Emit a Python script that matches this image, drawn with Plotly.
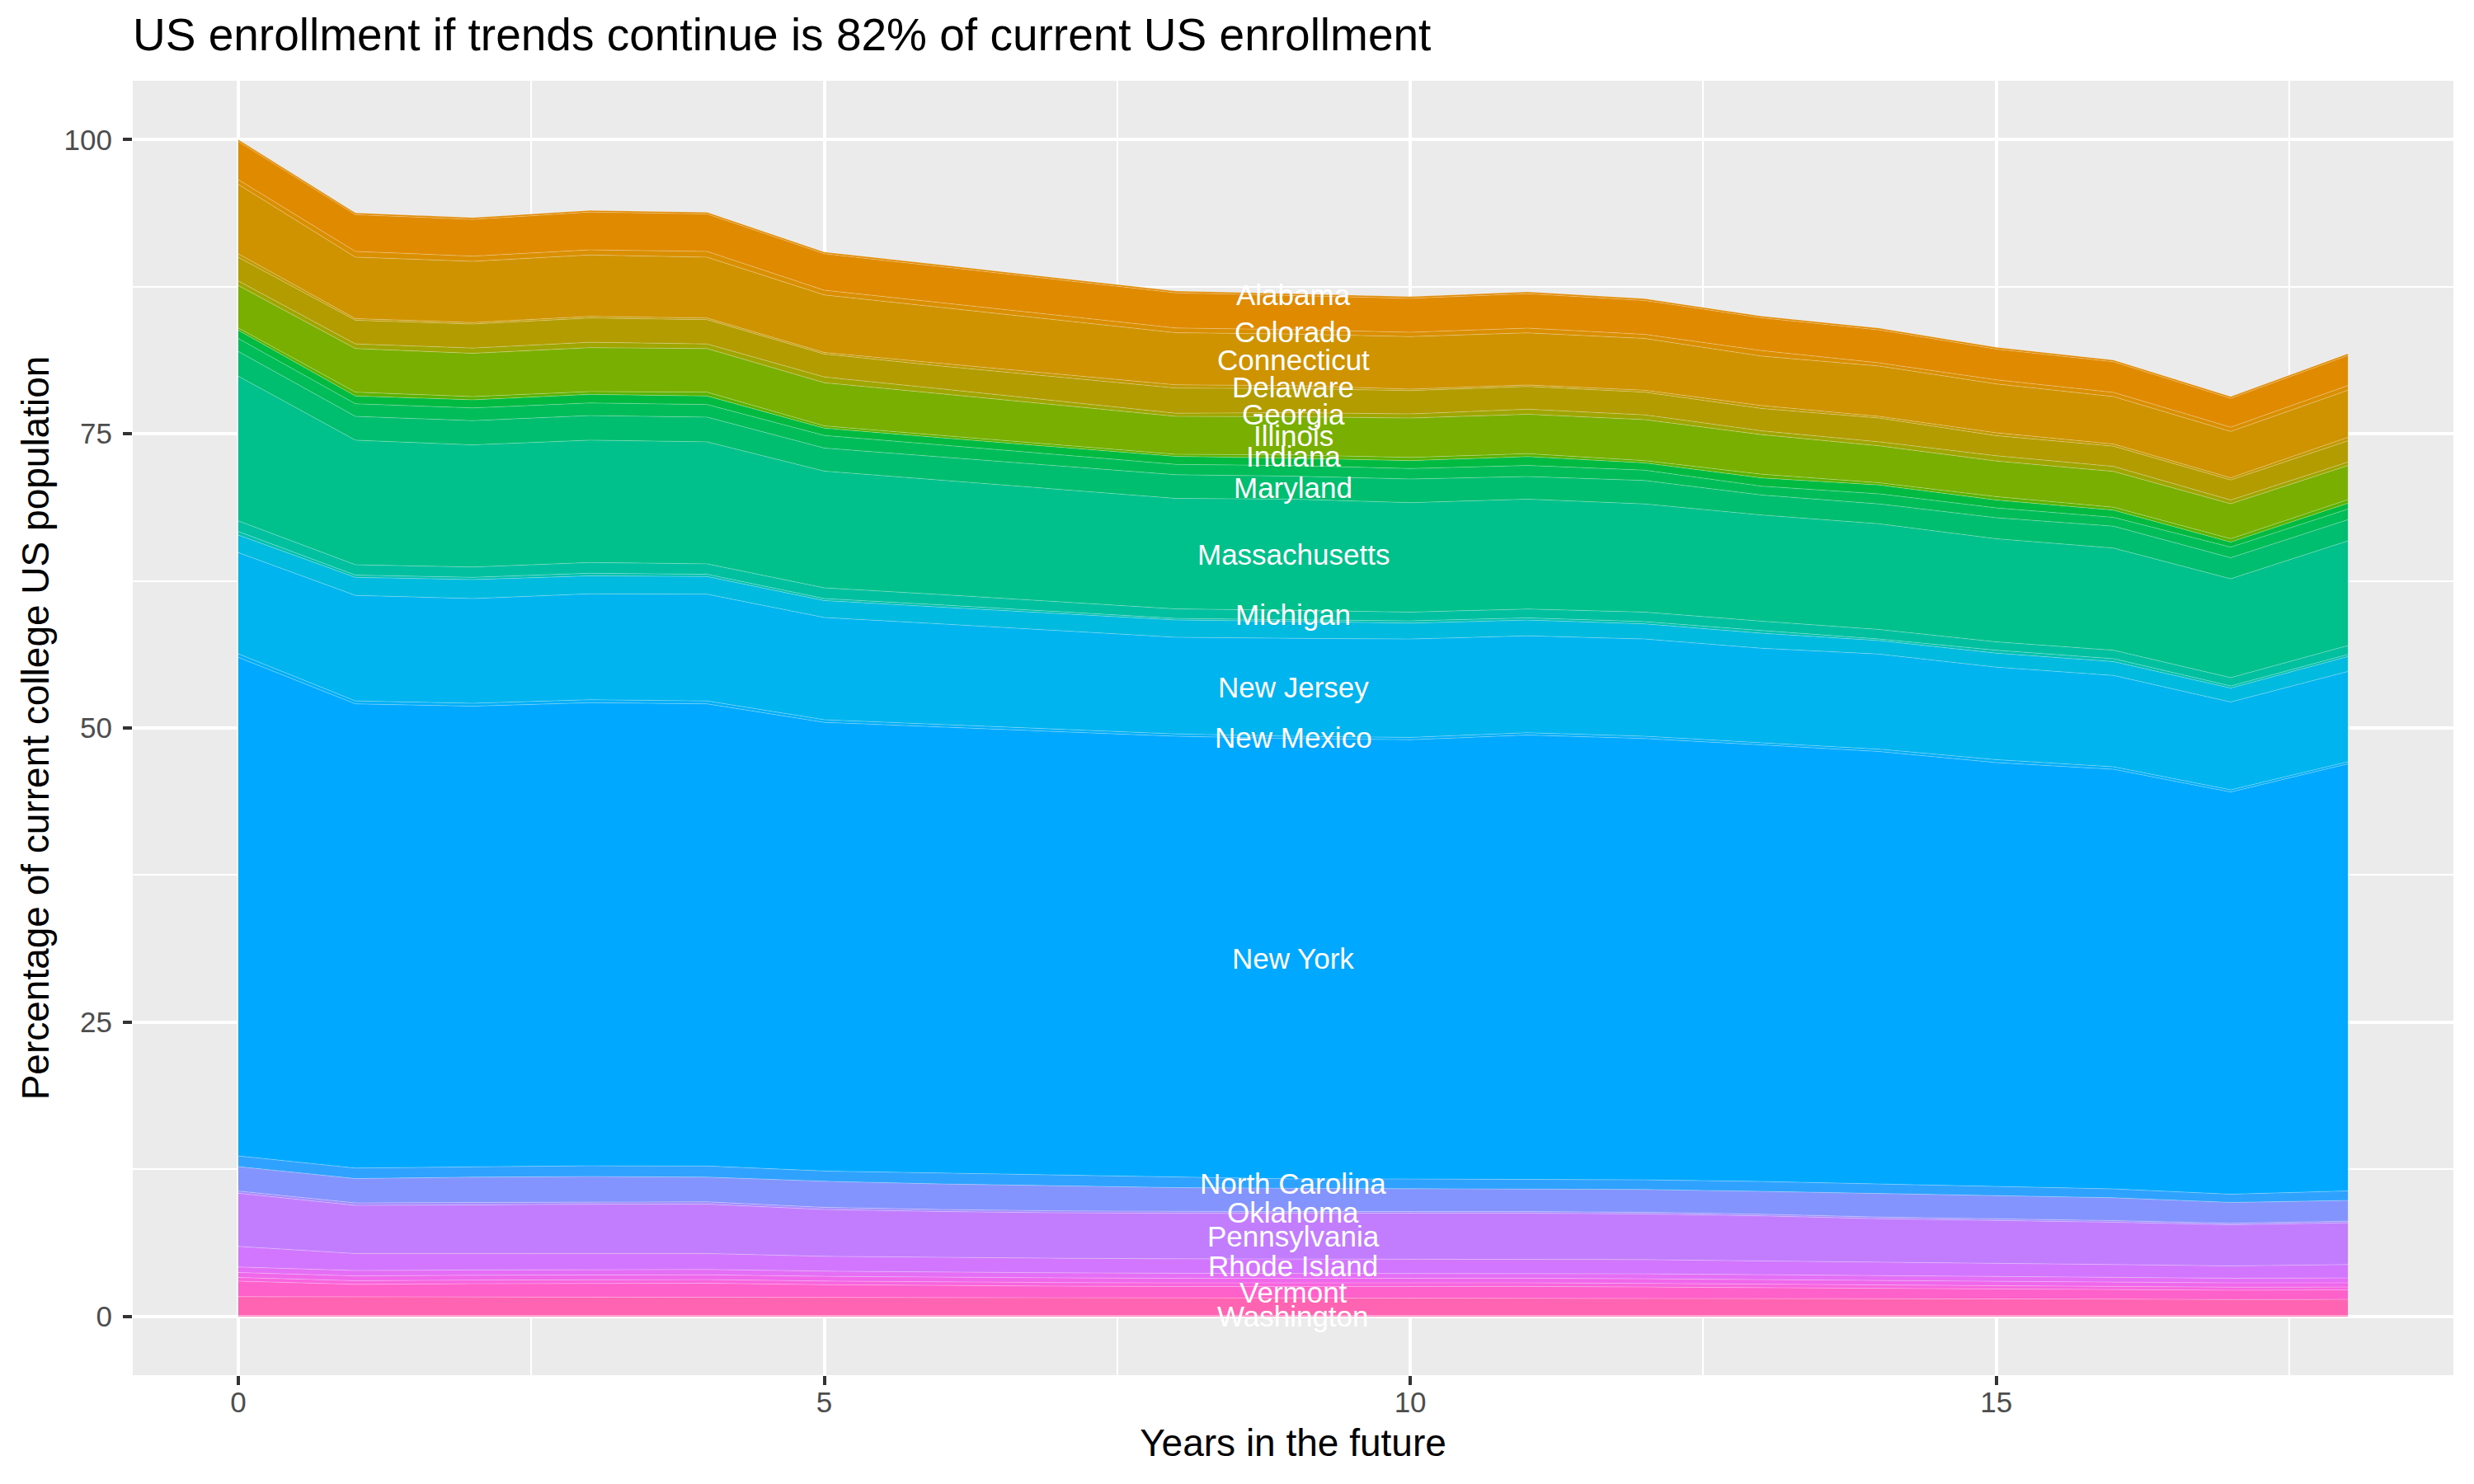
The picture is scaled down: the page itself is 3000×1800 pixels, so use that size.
import plotly.graph_objects as go

years = list(range(19))

# values per state (percentage points of current US college population), top band first
alabama = [0.15, 0.15, 0.15, 0.15, 0.15, 0.15, 0.15, 0.15, 0.15, 0.15, 0.15, 0.15, 0.15, 0.15, 0.15, 0.15, 0.15, 0.15, 0.15]
arizona = [3.25, 3.12, 3.12, 3.21, 3.18, 3.10, 3.06, 3.02, 2.99, 2.90, 2.88, 2.93, 2.88, 2.78, 2.80, 2.61, 2.60, 2.45, 2.56]
colorado = [0.40, 0.49, 0.44, 0.43, 0.49, 0.40, 0.40, 0.40, 0.40, 0.37, 0.37, 0.40, 0.35, 0.47, 0.27, 0.35, 0.36, 0.36, 0.40]
connecticut = [5.90, 5.22, 5.20, 5.22, 5.17, 4.89, 4.76, 4.59, 4.43, 4.38, 4.46, 4.43, 4.40, 4.20, 4.28, 4.15, 4.03, 3.94, 4.00]
delaware = [0.30, 0.14, 0.13, 0.14, 0.14, 0.13, 0.23, 0.25, 0.27, 0.26, 0.13, 0.13, 0.16, 0.25, 0.14, 0.25, 0.18, 0.18, 0.30]
florida = [2.00, 2.01, 2.04, 2.06, 2.06, 1.95, 1.93, 2.04, 2.14, 2.04, 1.98, 1.93, 1.93, 1.90, 2.02, 1.71, 1.72, 1.71, 1.80]
georgia = [0.40, 0.40, 0.45, 0.46, 0.40, 0.49, 0.42, 0.34, 0.27, 0.35, 0.35, 0.43, 0.41, 0.32, 0.34, 0.44, 0.43, 0.32, 0.30]
illinois = [3.60, 3.70, 3.68, 3.73, 3.70, 3.67, 3.54, 3.38, 3.22, 3.25, 3.35, 3.35, 3.48, 3.37, 3.14, 3.03, 3.04, 2.97, 2.90]
indiana = [0.20, 0.33, 0.27, 0.24, 0.33, 0.19, 0.20, 0.19, 0.18, 0.27, 0.27, 0.25, 0.19, 0.31, 0.19, 0.29, 0.25, 0.28, 0.30]
iowa = [0.70, 0.66, 0.69, 0.73, 0.72, 0.62, 0.61, 0.65, 0.68, 0.63, 0.67, 0.75, 0.62, 0.70, 0.75, 0.67, 0.61, 0.43, 0.50]
kansas = [1.10, 1.07, 1.08, 1.07, 1.07, 1.07, 1.02, 0.95, 0.88, 0.90, 0.89, 0.94, 0.88, 0.75, 0.86, 0.83, 0.75, 0.90, 0.90]
maryland = [2.10, 2.02, 2.06, 2.09, 2.10, 1.96, 1.97, 1.99, 2.01, 1.95, 2.01, 1.92, 1.99, 1.70, 1.69, 1.79, 1.86, 1.79, 1.80]
massachusetts = [12.30, 10.59, 10.38, 10.40, 10.37, 9.92, 9.72, 9.55, 9.39, 9.45, 9.30, 9.34, 9.19, 9.02, 8.98, 8.76, 8.68, 8.40, 8.90]
michigan = [0.90, 0.88, 0.88, 0.91, 0.89, 0.91, 0.88, 0.84, 0.81, 0.80, 0.75, 0.75, 0.81, 0.80, 0.81, 0.71, 0.72, 0.71, 0.75]
minnesota = [0.30, 0.19, 0.19, 0.22, 0.19, 0.17, 0.19, 0.17, 0.13, 0.15, 0.19, 0.19, 0.19, 0.23, 0.13, 0.25, 0.25, 0.18, 0.18]
missouri = [1.50, 1.53, 1.61, 1.53, 1.50, 1.44, 1.43, 1.45, 1.47, 1.43, 1.35, 1.34, 1.29, 1.28, 1.15, 1.19, 1.18, 1.18, 1.27]
new_jersey = [8.60, 8.97, 8.90, 9.00, 9.07, 8.69, 8.54, 8.37, 8.21, 8.32, 8.36, 8.23, 8.26, 8.03, 8.08, 7.86, 7.76, 7.47, 7.67]
new_mexico = [0.30, 0.25, 0.25, 0.25, 0.25, 0.22, 0.22, 0.20, 0.20, 0.20, 0.20, 0.20, 0.20, 0.18, 0.20, 0.25, 0.21, 0.18, 0.18]
new_york = [42.37, 39.45, 39.15, 39.36, 39.28, 38.13, 37.90, 37.68, 37.47, 37.42, 37.33, 37.76, 37.50, 37.10, 36.75, 36.05, 35.66, 34.18, 36.29]
north_carolina = [0.91, 0.89, 0.87, 0.91, 0.94, 0.87, 0.93, 0.94, 0.89, 0.80, 0.82, 0.79, 0.82, 0.84, 0.82, 0.77, 0.75, 0.70, 0.81]
ohio = [2.07, 2.07, 2.15, 2.15, 2.10, 2.22, 2.17, 2.12, 2.03, 1.98, 1.94, 1.94, 1.94, 1.94, 1.99, 1.96, 1.94, 1.77, 1.76]
oklahoma = [0.19, 0.21, 0.21, 0.20, 0.20, 0.18, 0.17, 0.16, 0.15, 0.14, 0.14, 0.14, 0.14, 0.14, 0.14, 0.14, 0.14, 0.13, 0.14]
pennsylvania = [4.52, 4.09, 4.13, 4.19, 4.19, 3.98, 3.90, 3.86, 3.87, 3.89, 3.90, 3.90, 3.88, 3.83, 3.71, 3.67, 3.60, 3.49, 3.55]
rhode_island = [1.75, 1.45, 1.40, 1.36, 1.36, 1.26, 1.26, 1.24, 1.23, 1.21, 1.21, 1.21, 1.21, 1.17, 1.12, 1.09, 1.09, 1.05, 1.14]
south_carolina = [0.47, 0.45, 0.45, 0.45, 0.45, 0.44, 0.44, 0.43, 0.43, 0.42, 0.42, 0.42, 0.42, 0.42, 0.41, 0.41, 0.41, 0.40, 0.41]
south_dakota = [0.42, 0.41, 0.41, 0.41, 0.41, 0.40, 0.40, 0.40, 0.39, 0.39, 0.39, 0.39, 0.39, 0.38, 0.38, 0.37, 0.37, 0.36, 0.36]
tennessee = [0.31, 0.31, 0.31, 0.31, 0.31, 0.31, 0.31, 0.31, 0.31, 0.31, 0.31, 0.31, 0.31, 0.30, 0.29, 0.28, 0.27, 0.26, 0.25]
vermont = [1.32, 1.06, 1.11, 1.16, 1.17, 1.07, 1.00, 0.98, 0.96, 0.98, 0.99, 0.99, 0.95, 0.92, 0.89, 0.84, 0.79, 0.80, 0.80]
virginia = [1.59, 1.58, 1.58, 1.57, 1.56, 1.54, 1.52, 1.50, 1.49, 1.48, 1.47, 1.47, 1.46, 1.44, 1.42, 1.40, 1.39, 1.34, 1.36]
washington = [0.08, 0.08, 0.08, 0.08, 0.08, 0.08, 0.08, 0.08, 0.08, 0.08, 0.08, 0.08, 0.08, 0.08, 0.08, 0.08, 0.08, 0.08, 0.08]

state_names = ["Alabama", "Arizona", "Colorado", "Connecticut", "Delaware", "Florida", "Georgia",
               "Illinois", "Indiana", "Iowa", "Kansas", "Maryland", "Massachusetts", "Michigan",
               "Minnesota", "Missouri", "New Jersey", "New Mexico", "New York", "North Carolina",
               "Ohio", "Oklahoma", "Pennsylvania", "Rhode Island", "South Carolina", "South Dakota",
               "Tennessee", "Vermont", "Virginia", "Washington"]
state_values = [alabama, arizona, colorado, connecticut, delaware, florida, georgia,
                illinois, indiana, iowa, kansas, maryland, massachusetts, michigan,
                minnesota, missouri, new_jersey, new_mexico, new_york, north_carolina,
                ohio, oklahoma, pennsylvania, rhode_island, south_carolina, south_dakota,
                tennessee, vermont, virginia, washington]

labelled_states = ["Alabama", "Colorado", "Connecticut", "Delaware", "Georgia", "Illinois",
                   "Indiana", "Maryland", "Massachusetts", "Michigan", "New Jersey",
                   "New Mexico", "New York", "North Carolina", "Oklahoma", "Pennsylvania",
                   "Rhode Island", "Vermont", "Washington"]
label_year = 9

x_ticks = [0, 5, 10, 15]
y_ticks = [0, 25, 50, 75, 100]

# styles
colors = ["#E08A00", "#E08A00", "#D98F00", "#D09300", "#C29900", "#B29C00", "#A0A600",
          "#78AF00", "#5BB300", "#00BA42", "#00BC59", "#00BE70", "#00C08B", "#00C0A0",
          "#00C0B0", "#00BADF", "#00B4EF", "#00AEF8", "#00A9FF", "#2FA1FF",
          "#8494FF", "#A68AFF", "#C27DFF", "#D376FF", "#E56EF6", "#EF67EB",
          "#F864DE", "#FF61CB", "#FF64B2", "#FF64B2"]

FONT = "Liberation Sans, Arial, sans-serif"

fig = go.Figure()

# plotly stacks from the first trace upward: add bottom state first
for name, vals, col in reversed(list(zip(state_names, state_values, colors))):
    fig.add_trace(go.Scatter(
        x=years, y=vals, name=name, stackgroup="one", mode="lines",
        line=dict(width=1, color="rgba(255,255,255,0.28)"),
        fillcolor=col, hoverinfo="skip", showlegend=False))

# label positions: centre of each band at label_year
idx = years.index(label_year)
bottom = 0.0
centers = {}
for name, vals in reversed(list(zip(state_names, state_values))):
    centers[name] = bottom + vals[idx] / 2.0
    bottom += vals[idx]

annotations = [
    dict(x=label_year, y=centers[n], xref="x", yref="y", text=n, showarrow=False,
         xanchor="center", yanchor="middle", yshift=0,
         font=dict(family=FONT, size=35, color="white"))
    for n in labelled_states
]

axis_common = dict(
    showgrid=True, gridcolor="white", gridwidth=4.4,
    zeroline=False, showline=False,
    ticks="outside", ticklen=11, tickwidth=3.5, tickcolor="#333333",
    tickfont=dict(family=FONT, size=35, color="#4D4D4D"),
    automargin=False,
)

fig.update_layout(
    width=3000, height=1800,
    margin=dict(l=161, r=25, t=98, b=132),
    plot_bgcolor="#EBEBEB", paper_bgcolor="white",
    annotations=annotations,
    title=dict(text="US enrollment if trends continue is 82% of current US enrollment",
               x=161 / 3000, xanchor="left", xref="container",
               y=1 - 42 / 1800, yanchor="middle", yref="container",
               font=dict(family=FONT, size=55, color="black")),
    xaxis=dict(range=[-0.9, 18.9], tickmode="array", tickvals=x_ticks,
               ticktext=[str(v) for v in x_ticks],
               minor=dict(tickmode="linear", tick0=0, dtick=2.5, showgrid=True,
                          gridcolor="white", gridwidth=2.2, ticks=""),
               title=dict(text="Years in the future", standoff=14,
                          font=dict(family=FONT, size=46, color="black")),
               ticklabelstandoff=-9,
               **axis_common),
    yaxis=dict(range=[-5, 105], tickmode="array", tickvals=y_ticks,
               ticktext=[str(v) for v in y_ticks],
               minor=dict(tickmode="linear", tick0=0, dtick=12.5, showgrid=True,
                          gridcolor="white", gridwidth=2.2, ticks=""),
               title=dict(text="Percentage of current college US population", standoff=3,
                          font=dict(family=FONT, size=46, color="black")),
               ticklabelstandoff=6,
               **axis_common),
)

fig.write_html("out.html", config={"displayModeBar": False},
               post_script="document.body.style.margin='0';document.body.style.overflow='hidden';")
